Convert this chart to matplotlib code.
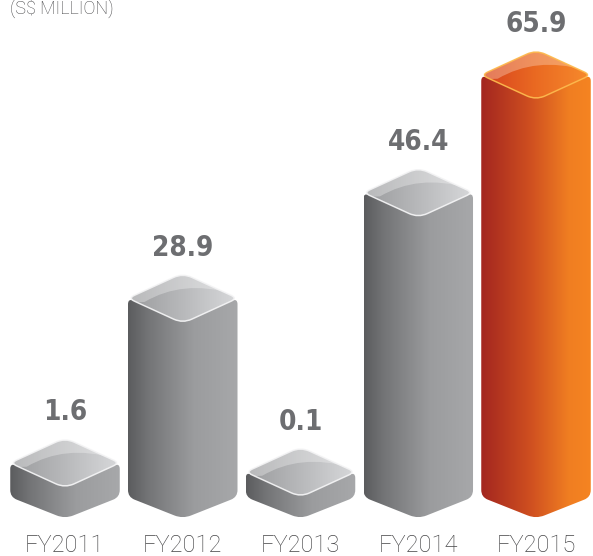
import numpy as np
import matplotlib
matplotlib.use("Agg")
import matplotlib.pyplot as plt
from matplotlib.path import Path
from matplotlib.patches import PathPatch
from matplotlib.colors import LinearSegmentedColormap

# 数据
years = ["FY2011", "FY2012", "FY2013", "FY2014", "FY2015"]
values = [1.6, 28.9, 0.1, 46.4, 65.9]
value_labels = ["1.6", "28.9", "0.1", "46.4", "65.9"]
is_latest = [False, False, False, False, True]
unit_label = "(S$ MILLION)"

# 样式
BAR_W = 0.93          # 柱宽 (类别间距的比例)
BASE = -4.05          # 柱体底边 (柱下伸出的"底座"深度)
DEPTH_TOP = 4.15      # 顶面菱形半高
DEPTH_BOT = 3.6       # 底部 V 形深度
LABEL_GAP = 1.9
VALUE_COLOR = "#6d6e71"
CAT_COLOR = "#454547"

gray_body = LinearSegmentedColormap.from_list(
    "gb", [(0, "#5b5c5e"), (0.18, "#737476"), (0.6, "#9b9c9e"), (1, "#a7a8aa")])
gray_top = LinearSegmentedColormap.from_list(
    "gt", [(0, "#9a9b9d"), (0.5, "#b8b9bb"), (1, "#d8d9db")])
orange_body = LinearSegmentedColormap.from_list(
    "ob", [(0, "#a3261f"), (0.45, "#cf4f20"), (0.8, "#f07e22"), (1, "#f58421")])
orange_top = LinearSegmentedColormap.from_list(
    "ot", [(0, "#d6411e"), (0.5, "#ea6a22"), (1, "#f78b2c")])

fig = plt.figure(figsize=(5.93, 5.56), dpi=100)
ax = fig.add_axes([0, 0, 1, 1])
ax.set_xlim(-0.552, 4.484)
ax.set_ylim(-13.82, 78.33)
ax.axis("off")


def rounded_path(pts, radii):
    """多边形在像素空间圆角化, 再换回数据坐标。"""
    disp = ax.transData.transform(np.asarray(pts, float))
    n = len(disp)
    verts, codes = [], []
    for i in range(n):
        p, a, b = disp[i], disp[i - 1], disp[(i + 1) % n]
        ua = (a - p) / np.linalg.norm(a - p)
        ub = (b - p) / np.linalg.norm(b - p)
        r = radii[i]
        verts.append(p + ua * r)
        codes.append(Path.MOVETO if i == 0 else Path.LINETO)
        verts += [p, p + ub * r]
        codes += [Path.CURVE3, Path.CURVE3]
    verts.append(verts[0])
    codes.append(Path.CLOSEPOLY)
    return Path(ax.transData.inverted().transform(np.array(verts)), codes)


grad = np.linspace(0, 1, 256).reshape(1, -1)

for i, (v, latest) in enumerate(zip(values, is_latest)):
    c = float(i)
    x0, x1 = c - BAR_W / 2, c + BAR_W / 2
    z = 2 + i
    body_cm = orange_body if latest else gray_body
    top_cm = orange_top if latest else gray_top

    # 前面柱体
    body_pts = [(x0, v), (x0, BASE), (c, BASE - DEPTH_BOT), (x1, BASE),
                (x1, v), (c, v - DEPTH_TOP)]
    body = PathPatch(rounded_path(body_pts, [6, 7, 9, 7, 6, 9]),
                     facecolor="none", edgecolor="none", transform=ax.transData)
    ax.add_patch(body)
    im = ax.imshow(grad, extent=[x0, x1, BASE - DEPTH_BOT, v + 1], aspect="auto",
                   cmap=body_cm, zorder=z, interpolation="bicubic")
    im.set_clip_path(body)

    # 顶面菱形
    top_pts = [(x0, v), (c, v - DEPTH_TOP), (x1, v), (c, v + DEPTH_TOP)]
    top_path = rounded_path(top_pts, [7, 10, 7, 10])
    top = PathPatch(top_path, facecolor="none", edgecolor="none",
                    transform=ax.transData)
    ax.add_patch(top)
    im2 = ax.imshow(grad, extent=[x0, x1, v - DEPTH_TOP, v + DEPTH_TOP],
                    aspect="auto", cmap=top_cm, zorder=z + 0.1,
                    interpolation="bicubic")
    im2.set_clip_path(top)

    # 顶面高光 (弧线以上)
    w, d = BAR_W, DEPTH_TOP
    hl_verts = [(x0 + 0.15 * w, v - 0.15 * d), (x0 + 0.5 * w, v + 0.75 * d),
                (x0 + 0.94 * w, v + 0.2 * d), (x1 + 0.2, v + 0.2 * d),
                (x1 + 0.2, v + 2 * d), (x0 - 0.2, v + 2 * d),
                (x0 - 0.2, v - 0.2 * d), (x0 + 0.15 * w, v - 0.15 * d)]
    hl_codes = [Path.MOVETO, Path.CURVE3, Path.CURVE3, Path.LINETO,
                Path.LINETO, Path.LINETO, Path.LINETO, Path.CLOSEPOLY]
    hl = PathPatch(Path(hl_verts, hl_codes),
                   facecolor="#fde2cf" if latest else "#ffffff",
                   alpha=0.35 if latest else 0.3, edgecolor="none",
                   zorder=z + 0.2)
    ax.add_patch(hl)
    hl.set_clip_path(top)

    # 顶面边缘细线
    edge = "#fdb94b" if latest else "#f4f4f5"
    ax.add_patch(PathPatch(top_path, facecolor="none", edgecolor=edge,
                           lw=1.1, alpha=0.9, zorder=z + 0.3))

    ax.text(c, v + DEPTH_TOP + LABEL_GAP, value_labels[i], ha="center",
            va="bottom", fontsize=20, fontweight="bold", fontstretch="condensed",
            color=VALUE_COLOR, family=["DejaVu Sans"], zorder=10)
    ax.text(c, -12.0, years[i], ha="center", va="center", fontsize=17,
            fontweight="light", color=CAT_COLOR,
            family=["Roboto", "DejaVu Sans"], zorder=10)

fig.text(10 / 593, 1 - 14 / 556, unit_label, ha="left", va="baseline",
         fontsize=13, fontweight="light", color=CAT_COLOR,
         family=["Roboto", "DejaVu Sans"])

ax.set_xlim(-0.552, 4.484)
ax.set_ylim(-13.82, 78.33)
fig.savefig("out.png", dpi=100)
